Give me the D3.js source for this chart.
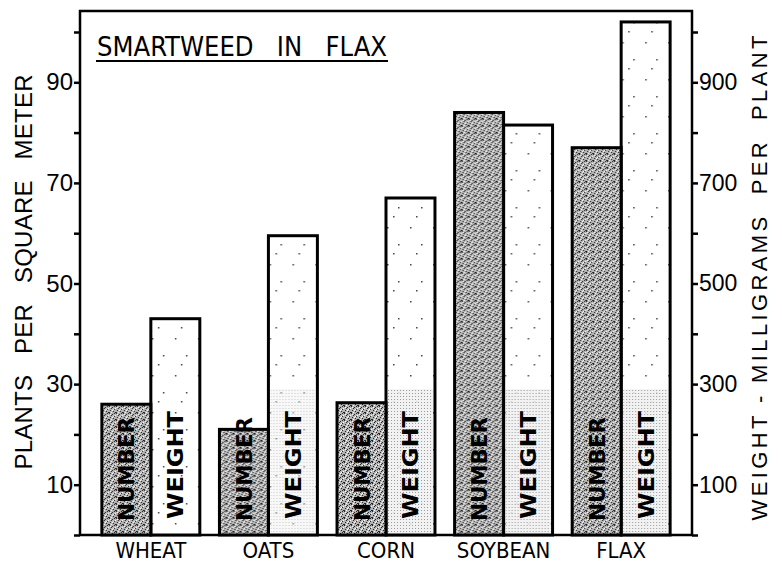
<!DOCTYPE html>
<html>
<head>
<meta charset="utf-8">
<script src="https://cdn.jsdelivr.net/npm/d3@7"></script>
<style>
  html, body { margin: 0; padding: 0; background: #fff; }
  svg { display: block; }
  text { fill: #000; }
</style>
</head>
<body>
<svg id="chart" width="782" height="565"></svg>
<script>
// ---- data ----
const categories = ["WHEAT", "OATS", "CORN", "SOYBEAN", "FLAX"];
const numberValues = [26, 21, 26.3, 84, 77];          // plants per square meter
const weightValues = [430, 595, 670, 815, 1020];      // milligrams per plant
const leftTicks = [0, 10, 20, 30, 40, 50, 60, 70, 80, 90, 100];
const leftTickLabels = [10, 30, 50, 70, 90];
const rightTicks = [0, 100, 200, 300, 400, 500, 600, 700, 800, 900, 1000];
const rightTickLabels = [100, 300, 500, 700, 900];
const title = "SMARTWEED   IN   FLAX";
const leftTitle = "PLANTS   PER   SQUARE   METER";
const rightTitle = "WEIGHT - MILLIGRAMS  PER  PLANT";

// ---- layout ----
const svg = d3.select("#chart");
const plot = { left: 80, right: 692, top: 11, bottom: 535 };
const labelFont = "'Liberation Sans', Arial, sans-serif";
const condFont = "'DejaVu Sans Condensed', 'DejaVu Sans', sans-serif";

const x = d3.scaleBand().domain(categories)
  .range([plot.left, plot.right]).paddingInner(0.167).paddingOuter(0.186);
const sub = d3.scaleBand().domain(["number", "weight"]).range([0, x.bandwidth()]);
const yL = d3.scaleLinear().domain([0, 100]).range([plot.bottom, 32]);
const yR = d3.scaleLinear().domain([0, 1000]).range([plot.bottom, 32]);

// ---- patterns ----
const defs = svg.append("defs");
const dark = defs.append("pattern").attr("id", "stipple")
  .attr("patternUnits", "userSpaceOnUse").attr("width", 7).attr("height", 7);
dark.append("rect").attr("width", 7).attr("height", 7).attr("fill", "#b4b4b4");
[[0,0],[3,1],[5,3],[1,4],[4,5],[6,6],[2,2],[0,6],[5,0]].forEach(([a,b]) =>
  dark.append("rect").attr("x", a).attr("y", b).attr("width", 1).attr("height", 1).attr("fill", "#222"));
[[1,1],[4,3],[6,2],[2,6],[3,4]].forEach(([a,b]) =>
  dark.append("rect").attr("x", a).attr("y", b).attr("width", 1).attr("height", 1).attr("fill", "#fff"));

const light = defs.append("pattern").attr("id", "sparse")
  .attr("patternUnits", "userSpaceOnUse").attr("width", 23).attr("height", 37);
light.append("rect").attr("width", 23).attr("height", 37).attr("fill", "#fff");
[[4,5],[15,22],[10,31]].forEach(([a,b]) =>
  light.append("rect").attr("x", a).attr("y", b).attr("width", 1.5).attr("height", 1.5).attr("fill", "#444"));

const screen = defs.append("pattern").attr("id", "screen")
  .attr("patternUnits", "userSpaceOnUse").attr("width", 3).attr("height", 3);
screen.append("rect").attr("width", 3).attr("height", 3).attr("fill", "#f0f0f0");
screen.append("rect").attr("width", 1).attr("height", 1).attr("fill", "#888");

// ---- frame ----
svg.append("path")
  .attr("d", `M${plot.left},${plot.bottom}V${plot.top}H${plot.right}V${plot.bottom}H${plot.left}`)
  .attr("fill", "none").attr("stroke", "#000").attr("stroke-width", 2.5);

// ---- bars ----
const groups = svg.append("g").selectAll("g").data(categories).join("g")
  .attr("transform", d => `translate(${x(d)},0)`);

// weight bars
groups.append("rect")
  .attr("x", sub("weight")).attr("width", sub.bandwidth())
  .attr("y", (d, i) => yR(weightValues[i]))
  .attr("height", (d, i) => plot.bottom - yR(weightValues[i]))
  .attr("fill", "url(#sparse)");
// lighter screen in lower part of weight bars (except wheat)
groups.filter((d, i) => i > 0).append("rect")
  .attr("x", sub("weight") + 2).attr("width", sub.bandwidth() - 4)
  .attr("y", (d, i) => yR(Math.min(weightValues[i + 1], 290)))
  .attr("height", (d, i) => plot.bottom - yR(Math.min(weightValues[i + 1], 290)))
  .attr("fill", "url(#screen)").attr("opacity", (d, i) => i === 0 ? 0.45 : 0.85);
groups.append("rect")
  .attr("x", sub("weight")).attr("width", sub.bandwidth())
  .attr("y", (d, i) => yR(weightValues[i]))
  .attr("height", (d, i) => plot.bottom - yR(weightValues[i]))
  .attr("fill", "none").attr("stroke", "#000").attr("stroke-width", 3);

// number bars
groups.append("rect")
  .attr("x", sub("number")).attr("width", sub.bandwidth())
  .attr("y", (d, i) => yL(numberValues[i]))
  .attr("height", (d, i) => plot.bottom - yL(numberValues[i]))
  .attr("fill", "url(#stipple)").attr("stroke", "#000").attr("stroke-width", 3);

// in-bar labels
groups.append("text")
  .attr("transform", `translate(${sub("number") + sub.bandwidth() / 2 + 8},521) rotate(-90)`)
  .attr("font-family", condFont).attr("font-weight", "bold").attr("font-size", 22)
  .attr("textLength", 104).attr("lengthAdjust", "spacingAndGlyphs")
  .text("NUMBER");
groups.append("text")
  .attr("transform", `translate(${sub("weight") + sub.bandwidth() / 2 + 8},519) rotate(-90)`)
  .attr("font-family", condFont).attr("font-weight", "bold").attr("font-size", 22)
  .attr("textLength", 108).attr("lengthAdjust", "spacingAndGlyphs")
  .text("WEIGHT");

// ---- axes ----
const leftAxis = d3.axisLeft(yL).tickValues(leftTicks).tickSize(6)
  .tickFormat(d => leftTickLabels.includes(d) ? d : "");
const gl = svg.append("g").attr("transform", `translate(${plot.left},0)`).call(leftAxis);
gl.select(".domain").remove();
gl.selectAll(".tick line").attr("stroke", "#000").attr("stroke-width", 2.5);
gl.selectAll(".tick text").attr("font-family", labelFont).attr("font-size", 24)
  .attr("x", -7).attr("fill", "#000");

const rightAxis = d3.axisRight(yR).tickValues(rightTicks).tickSize(6)
  .tickFormat(d => rightTickLabels.includes(d) ? d : "");
const gr = svg.append("g").attr("transform", `translate(${plot.right},0)`).call(rightAxis);
gr.select(".domain").remove();
gr.selectAll(".tick line").attr("stroke", "#000").attr("stroke-width", 2.5);
gr.selectAll(".tick text").attr("font-family", labelFont).attr("font-size", 23)
  .attr("x", 7).attr("fill", "#000");

const xAxis = d3.axisBottom(x).tickSize(0);
const gx = svg.append("g").attr("transform", `translate(0,${plot.bottom})`).call(xAxis);
gx.select(".domain").remove();
gx.selectAll(".tick text").attr("font-family", condFont).attr("font-size", 22)
  .attr("dy", "0.71em").attr("y", 7).attr("fill", "#000");

// ---- titles ----
svg.append("text").attr("x", 97).attr("y", 56)
  .attr("font-family", condFont).attr("font-size", 27)
  .attr("textLength", 290).attr("lengthAdjust", "spacingAndGlyphs")
  .style("white-space", "pre").text(title);
svg.append("line").attr("x1", 96).attr("x2", 388).attr("y1", 61).attr("y2", 61)
  .attr("stroke", "#000").attr("stroke-width", 2);

svg.append("text")
  .attr("transform", `translate(32,272) rotate(-90)`)
  .attr("text-anchor", "middle").attr("font-family", labelFont).attr("font-size", 24)
  .attr("textLength", 395).attr("lengthAdjust", "spacing")
  .style("white-space", "pre").text(leftTitle);

svg.append("text")
  .attr("transform", `translate(767,278) rotate(-90)`)
  .attr("text-anchor", "middle").attr("font-family", labelFont).attr("font-size", 22)
  .attr("textLength", 485).attr("lengthAdjust", "spacing")
  .style("white-space", "pre").text(rightTitle);
</script>
</body>
</html>
